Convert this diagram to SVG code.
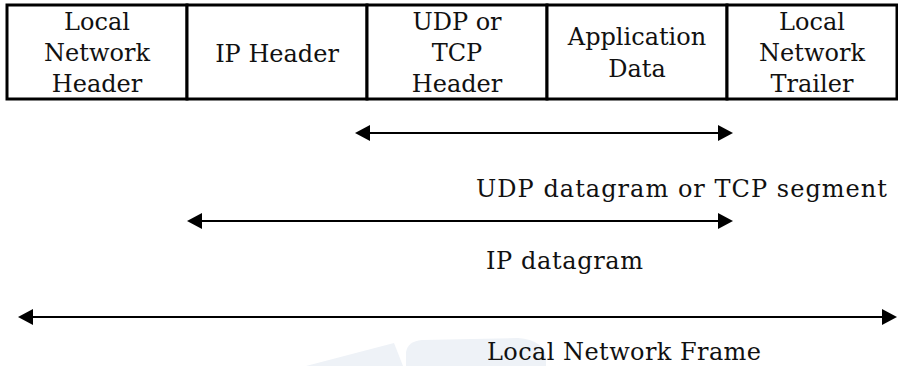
<svg xmlns="http://www.w3.org/2000/svg" width="898" height="366" viewBox="0 0 898 366">
  <style>
    .cell { fill: #ffffff; stroke: #000000; stroke-width: 3; }
    .lbl { font-family: "DejaVu Serif", "Liberation Serif", serif; font-size: 24px; fill: #111111; }
    .mid { text-anchor: middle; }
    .span { stroke: #000000; stroke-width: 2; fill: none; }
    .wm { fill: #eef2f7; }
  </style>
  <defs>
    <marker id="head" viewBox="0 0 15 16" markerUnits="userSpaceOnUse" markerWidth="15" markerHeight="16" refX="10" refY="8" orient="auto-start-reverse">
      <path d="M0,0 L15,8 L0,16 Z" fill="#000000"/>
    </marker>
  </defs>

  <rect width="898" height="366" fill="#ffffff"/>

  <!-- faint background mark -->
  <g id="backdrop">
    <polygon class="wm" points="306,366 394,343 403,366"/>
    <path class="wm" d="M406,366 L406,352 Q408,341 422,340 L518,338 Q544,340 546,358 L546,366 Z"/>
  </g>

  <!-- frame layout: one cell per field -->
  <g id="local-network-header">
    <rect class="cell" x="7" y="5" width="180" height="94"/>
    <text class="lbl mid" x="97" y="30">Local</text>
    <text class="lbl mid" x="97" y="61">Network</text>
    <text class="lbl mid" x="97" y="92">Header</text>
  </g>
  <g id="ip-header">
    <rect class="cell" x="187" y="5" width="180" height="94"/>
    <text class="lbl mid" x="277" y="62">IP Header</text>
  </g>
  <g id="transport-header">
    <rect class="cell" x="367" y="5" width="180" height="94"/>
    <text class="lbl mid" x="457" y="30">UDP or</text>
    <text class="lbl mid" x="457" y="61">TCP</text>
    <text class="lbl mid" x="457" y="92">Header</text>
  </g>
  <g id="application-data">
    <rect class="cell" x="547" y="5" width="180" height="94"/>
    <text class="lbl mid" x="637" y="45">Application</text>
    <text class="lbl mid" x="637" y="77">Data</text>
  </g>
  <g id="local-network-trailer">
    <rect class="cell" x="727" y="5" width="170" height="94"/>
    <text class="lbl mid" x="812" y="30">Local</text>
    <text class="lbl mid" x="812" y="61">Network</text>
    <text class="lbl mid" x="812" y="92">Trailer</text>
  </g>

  <!-- extent arrows -->
  <g id="spans">
    <line class="span" x1="360" y1="133" x2="728" y2="133" marker-start="url(#head)" marker-end="url(#head)"/>
    <line class="span" x1="192" y1="221" x2="728" y2="221" marker-start="url(#head)" marker-end="url(#head)"/>
    <line class="span" x1="23" y1="317" x2="892" y2="317" marker-start="url(#head)" marker-end="url(#head)"/>
  </g>

  <g id="span-labels">
    <text class="lbl" x="476" y="197" textLength="411" lengthAdjust="spacing">UDP datagram or TCP segment</text>
    <text class="lbl" x="486" y="269" textLength="157" lengthAdjust="spacing">IP datagram</text>
    <text class="lbl" x="487" y="360" textLength="274" lengthAdjust="spacing">Local Network Frame</text>
  </g>
</svg>
